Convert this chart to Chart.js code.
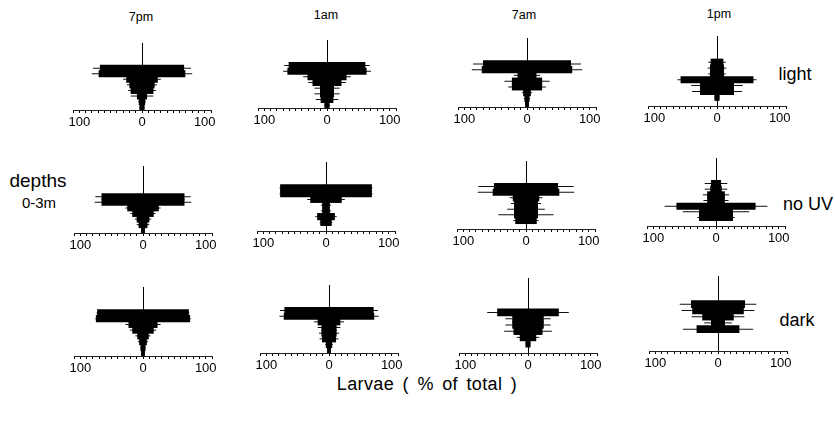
<!DOCTYPE html>
<html><head><meta charset="utf-8">
<script src="https://cdn.jsdelivr.net/npm/chart.js@4.4.0/dist/chart.umd.min.js"></script>
<style>
html,body{margin:0;padding:0;background:#fff;}
body{width:835px;height:427px;position:relative;overflow:hidden;font-family:"Liberation Sans",Arial,Helvetica,sans-serif;color:#000;}
.lbl{position:absolute;transform:translate(-50%,-50%);white-space:nowrap;line-height:1;}
.pnl{position:absolute;}
</style></head><body>
<script>
// ---- data ----
const depthBins = ['0-0.25','0.25-0.5','0.5-0.75','0.75-1','1-1.25','1.25-1.5','1.5-1.75','1.75-2','2-2.25','2.25-2.5','2.5-2.75','2.75-3'];
const timesOfDay = ['7pm','1am','7am','1pm'];
const treatments = ['light','no UV','dark'];
const axisTickValues = [-100, 0, 100];
const axisTickLabels = ['100', '0', '100'];
const xAxisTitle = 'Larvae ( % of total )';
const depthTitle = 'depths';
const depthRange = '0-3m';

// larvae (% of total) per depth bin, and error extent
const light7pm    = [0,0,0,0,66,68,24,19,17,7,4,3];
const light7pmErr = [0,0,0,0,78,80,30,24,22,18,6,4];
const light1am    = [0,0,0,0,60,62,30,22,10,10,9,3];
const light1amErr = [0,0,0,0,68,70,38,30,20,20,18,5];
const light7am    = [0,0,0,0,69,71,14,23,23,5,3,2];
const light7amErr = [0,0,0,0,86,88,21,36,30,8,5,3];
const light1pm    = [0,0,0,0,9,10,10,57,26,26,3,0];
const light1pmErr = [0,0,0,0,14,15,14,63,41,40,4,0];

const noUV7pm    = [0,0,0,0,0,65,65,24,16,9,6,2];
const noUV7pmErr = [0,0,0,0,0,76,77,28,20,13,10,3];
const noUV1am    = [0,0,0,0,72,72,24,5,5,13,8,0];
const noUV1amErr = [0,0,0,0,74,74,30,8,8,17,10,0];
const noUV7am    = [0,0,0,0,50,52,20,18,18,18,16,0];
const noUV7amErr = [0,0,0,0,76,77,26,24,30,44,20,0];
const noUV1pm    = [0,0,0,0,7,8,13,13,62,26,26,0];
const noUV1pmErr = [0,0,0,0,18,18,21,20,82,53,30,0];

const dark7pm    = [0,0,0,0,72,74,22,16,8,5,3,2];
const dark7pmErr = [0,0,0,0,74,76,28,21,12,8,4,2];
const dark1am    = [0,0,0,0,70,71,17,11,11,10,4,2];
const dark1amErr = [0,0,0,0,78,79,24,18,16,15,6,2];
const dark7am    = [0,0,0,0,0,48,24,24,22,12,3,0];
const dark7amErr = [0,0,0,0,0,65,36,36,38,18,4,0];
const dark1pm    = [0,0,0,0,42,40,24,10,33,0,0,0];
const dark1pmErr = [0,0,0,0,61,58,42,22,56,0,0,0];

const panelSeries = [
  [light7pm, light7pmErr], [light1am, light1amErr], [light7am, light7amErr], [light1pm, light1pmErr],
  [noUV7pm, noUV7pmErr], [noUV1am, noUV1amErr], [noUV7am, noUV7amErr], [noUV1pm, noUV1pmErr],
  [dark7pm, dark7pmErr], [dark1am, dark1amErr], [dark7am, dark7amErr], [dark1pm, dark1pmErr]
];

// ---- layout (page positions) ----
const panelLayout = [
  {cx:142, top:43, axis:110}, {cx:327, top:40, axis:108}, {cx:527, top:38, axis:107}, {cx:717, top:36, axis:106},
  {cx:143, top:166, axis:233}, {cx:326, top:162, axis:231}, {cx:526, top:161, axis:229}, {cx:716, top:158, axis:226},
  {cx:143, top:287, axis:356}, {cx:329, top:285, axis:353}, {cx:528, top:278, axis:353}, {cx:718, top:276, axis:351}
];
const headerPos = [[141,17,12.5],[326,15,12.5],[524,15,12.5],[719,14,12.5]];
const rowLabelPos = [[795,74,18],[808,204,18],[797,320,18]];

function addText(txt, x, y, size, extra) {
  const d = document.createElement('div');
  d.className = 'lbl';
  d.textContent = txt;
  d.style.left = x + 'px'; d.style.top = y + 'px'; d.style.fontSize = size + 'px';
  if (extra) Object.assign(d.style, extra);
  document.body.appendChild(d);
}

timesOfDay.forEach((t, i) => addText(t, headerPos[i][0], headerPos[i][1], headerPos[i][2]));
treatments.forEach((t, i) => addText(t, rowLabelPos[i][0], rowLabelPos[i][1], rowLabelPos[i][2]));
addText(depthTitle, 38, 180, 19);
addText(depthRange, 39, 202, 15);
addText(xAxisTitle, 427, 384, 18, {wordSpacing:'3px', letterSpacing:'0.4px'});

function makePanel(vals, errs, lay) {
  const padL = 14, padR = 14, padT = 2, axisH = 24, halfW = 69;
  const w = halfW * 2 + padL + padR;
  const h = (lay.axis - lay.top) + padT + axisH;
  const div = document.createElement('div');
  div.className = 'pnl';
  div.style.left = (lay.cx - halfW - padL) + 'px';
  div.style.top = (lay.top - padT) + 'px';
  div.style.width = w + 'px'; div.style.height = h + 'px';
  const cv = document.createElement('canvas');
  cv.width = w; cv.height = h; cv.style.width = w + 'px'; cv.style.height = h + 'px';
  div.appendChild(cv);
  document.body.appendChild(div);
  new Chart(cv, {
    type: 'bar',
    data: {
      labels: depthBins,
      datasets: [
        {data: vals.map(v => v > 0 ? [-v, v] : null), backgroundColor: '#000', borderWidth: 0,
         barPercentage: 1, categoryPercentage: 1, grouped: false, inflateAmount: 0.7, order: 1},
        {data: errs.map(e => e > 0 ? [-e, e] : null), backgroundColor: '#111', borderWidth: 0,
         barThickness: 1, grouped: false, inflateAmount: 0, order: 2}
      ]
    },
    options: {
      indexAxis: 'y', responsive: false, animation: false, devicePixelRatio: 1,
      layout: {padding: {left: padL, right: padR, top: padT, bottom: 0}},
      plugins: {legend: {display: false}, tooltip: {enabled: false}},
      scales: {
        y: {display: false},
        x: {
          min: -110, max: 110,
          afterFit: s => { s.height = axisH; },
          border: {display: true, color: '#222', width: 1},
          grid: {
            color: c => (c.tick && Math.round(c.tick.value) === 0) ? '#000' : 'rgba(0,0,0,0)',
            lineWidth: 1, tickColor: '#000', tickLength: 3, drawOnChartArea: true, drawTicks: true
          },
          ticks: {
            stepSize: 10, autoSkip: false, maxRotation: 0, minRotation: 0, padding: 2,
            color: '#000', font: {family: '"Liberation Sans", Arial, sans-serif', size: 13},
            callback: v => { const i = axisTickValues.indexOf(Math.round(v)); return i >= 0 ? axisTickLabels[i] : ''; }
          }
        }
      }
    }
  });
}

panelSeries.forEach((s, i) => makePanel(s[0], s[1], panelLayout[i]));
</script>
</body></html>
